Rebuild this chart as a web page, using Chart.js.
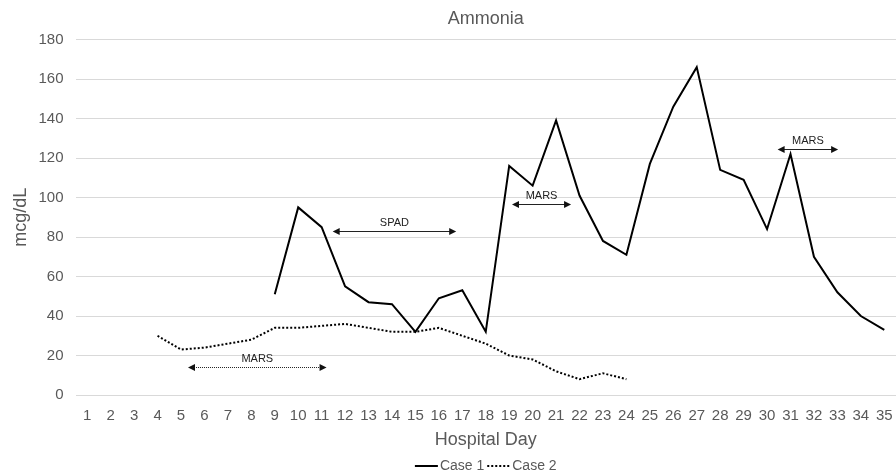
<!DOCTYPE html>
<html><head><meta charset="utf-8">
<script src="https://cdn.jsdelivr.net/npm/chart.js@4.4.0/dist/chart.umd.min.js"></script>
<style>html,body{margin:0;padding:0;background:#fff;}#wrap{width:896px;height:476px;}</style>
</head><body><div id="wrap"><canvas id="c" width="896" height="476"></canvas></div>
<script>
const chartTitle = 'Ammonia';
const yTitle = 'mcg/dL';
const xTitle = 'Hospital Day';
const days = ['1','2','3','4','5','6','7','8','9','10','11','12','13','14','15','16','17','18','19','20','21','22','23','24','25','26','27','28','29','30','31','32','33','34','35'];
const case1 = [null,null,null,null,null,null,null,null,51,95,85,55,47,46,32,49,53,32,116,106,139,101,78,71,117,146,166,114,109,84,122,70,52,40,33];
const case2 = [null,null,null,30,23,24,26,28,34,34,35,36,34,32,32,34,30,26,20,18,12,8,11,8,null,null,null,null,null,null,null,null,null,null,null];
const seriesNames = ['Case 1','Case 2'];
const yTicks = [0,20,40,60,80,100,120,140,160,180];
// therapy annotations (hospital day start, end, level, label)
const arrowLabels = ['MARS','SPAD','MARS','MARS'];
const arrowStart = [5.3, 11.47, 19.12, 30.45];
const arrowEnd = [11.21, 16.74, 21.64, 33.03];
const arrowLevel = [14, 83, 96.5, 124.5];
const arrowDotted = [true, false, false, false];

const FONT = '"Liberation Sans", Arial, Helvetica, sans-serif';
const GREY = '#595959';

function head(ctx, x, y, dir){
  ctx.beginPath();
  ctx.moveTo(x, y);
  ctx.lineTo(x - dir*7, y - 3.5);
  ctx.lineTo(x - dir*7, y + 3.5);
  ctx.closePath();
  ctx.fill();
}

const overlay = {
  id: 'overlay',
  afterDraw(chart){
    const {ctx, chartArea, scales} = chart;
    const xs = scales.x, ys = scales.y;
    const cx = (chartArea.left + chartArea.right) / 2;
    ctx.save();
    // title
    ctx.font = '18px ' + FONT;
    ctx.fillStyle = GREY;
    ctx.textAlign = 'center';
    ctx.textBaseline = 'middle';
    ctx.fillText(chartTitle, cx, 19);
    // arrows
    for (let i = 0; i < arrowLabels.length; i++){
      const x1 = xs.getPixelForValue(arrowStart[i] - 1);
      const x2 = xs.getPixelForValue(arrowEnd[i] - 1);
      const yy = Math.round(ys.getPixelForValue(arrowLevel[i])) + 0.5;
      ctx.strokeStyle = '#222';
      ctx.fillStyle = '#111';
      ctx.lineWidth = 1;
      ctx.setLineDash(arrowDotted[i] ? [1,1] : []);
      ctx.beginPath();
      ctx.moveTo(x1 + 4, yy);
      ctx.lineTo(x2 - 4, yy);
      ctx.stroke();
      ctx.setLineDash([]);
      head(ctx, x1, yy, -1);
      head(ctx, x2, yy, 1);
      ctx.font = '11px ' + FONT;
      ctx.fillStyle = '#222';
      ctx.textAlign = 'center';
      ctx.textBaseline = 'middle';
      ctx.fillText(arrowLabels[i], (x1 + x2) / 2, yy - 8.5);
    }
    // legend
    ctx.font = '14px ' + FONT;
    const w1 = ctx.measureText(seriesNames[0]).width;
    const w2 = ctx.measureText(seriesNames[1]).width;
    const lw = 23, gap = 2, between = 3;
    const total = lw + gap + w1 + between + lw + gap + w2;
    let lx = cx - total / 2;
    const ly = 466;
    ctx.strokeStyle = '#000';
    ctx.lineWidth = 2;
    ctx.beginPath(); ctx.moveTo(lx, ly); ctx.lineTo(lx + lw, ly); ctx.stroke();
    lx += lw + gap;
    ctx.fillStyle = GREY; ctx.textAlign = 'left'; ctx.textBaseline = 'middle';
    ctx.fillText(seriesNames[0], lx, ly);
    lx += w1 + between;
    ctx.setLineDash([2,2]);
    ctx.beginPath(); ctx.moveTo(lx, ly); ctx.lineTo(lx + lw, ly); ctx.stroke();
    ctx.setLineDash([]);
    lx += lw + gap;
    ctx.fillText(seriesNames[1], lx, ly);
    ctx.restore();
  }
};

new Chart(document.getElementById('c'), {
  type: 'line',
  data: {
    labels: days,
    datasets: [
      {label: seriesNames[0], data: case1, borderColor: '#000', borderWidth: 2, pointRadius: 0, tension: 0, fill: false, borderJoinStyle: 'miter'},
      {label: seriesNames[1], data: case2, borderColor: '#000', borderWidth: 2, borderDash: [2,2], pointRadius: 0, tension: 0, fill: false}
    ]
  },
  options: {
    responsive: false,
    animation: false,
    devicePixelRatio: 1,
    layout: {padding: {top: 39.5, left: 0, right: 0, bottom: 25}},
    plugins: {legend: {display: false}, title: {display: false}, tooltip: {enabled: false}},
    scales: {
      x: {
        offset: true,
        grid: {display: false, drawTicks: false},
        border: {display: false},
        ticks: {color: GREY, font: {family: FONT, size: 15}, padding: 12, maxRotation: 0, autoSkip: false},
        title: {display: true, text: xTitle, color: GREY, font: {family: FONT, size: 18}, padding: {top: 0, bottom: 0}},
        afterFit(s){ s.height = 56; s.paddingLeft = 0; s.paddingRight = 0; }
      },
      y: {
        min: 0, max: 180,
        afterBuildTicks(s){ s.ticks = yTicks.map(v => ({value: v})); },
        grid: {color: '#d9d9d9', lineWidth: 1, drawTicks: false},
        border: {display: false},
        ticks: {color: GREY, font: {family: FONT, size: 15}, padding: 12},
        title: {display: true, text: yTitle, color: GREY, font: {family: FONT, size: 18}, padding: {top: 10, bottom: 0}},
        afterFit(s){ s.width = 75.5; s.paddingTop = 0; s.paddingBottom = 0; }
      }
    }
  },
  plugins: [overlay]
});
</script></body></html>
